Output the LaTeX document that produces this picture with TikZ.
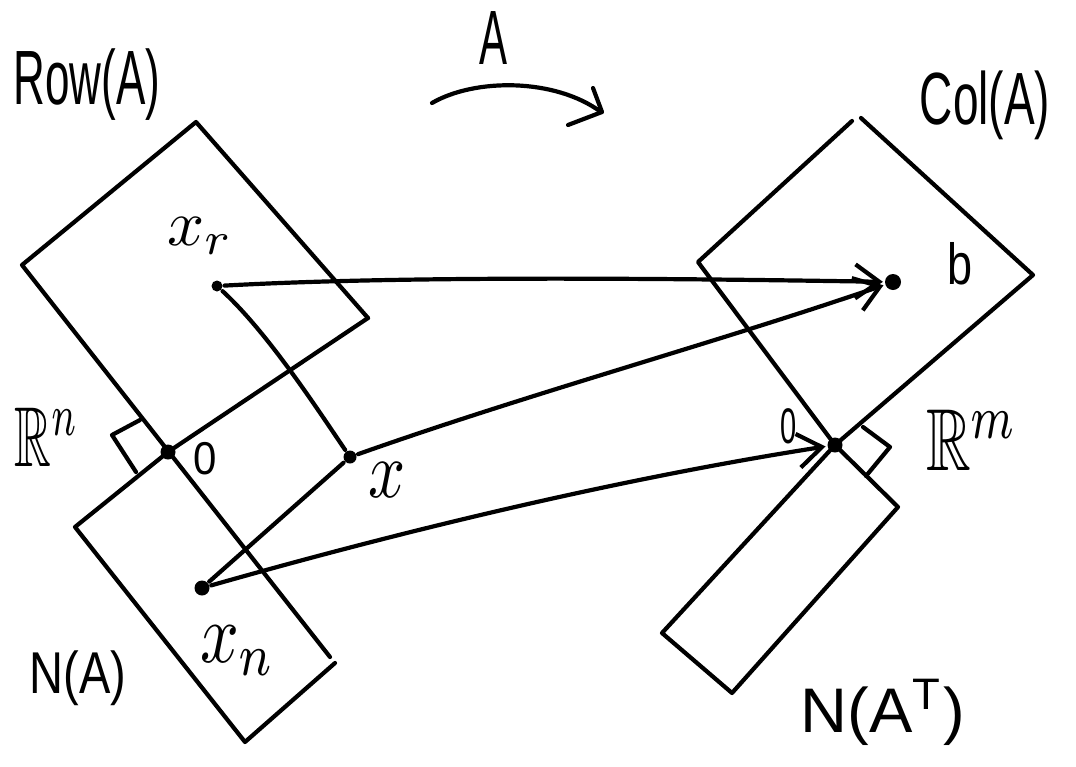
\documentclass[tikz,border=0pt]{standalone}
\usepackage{fontspec}
\setsansfont{Liberation Sans}
\usepackage{amssymb}
\usepackage{graphicx}
\usetikzlibrary{arrows.meta}
\begin{document}
\begin{tikzpicture}[x=1pt,y=-1pt, line width=4.2pt, line cap=round, line join=round,
  dot/.style={circle, fill=black, draw=none, inner sep=0pt, minimum size=#1},
  dot/.default=12pt,
  lbl/.style={inner sep=0pt, font=\sffamily},
  conn/.style={-{Straight Barb[length=24pt,width=34pt]}}]
\useasboundingbox (0,0) rectangle (1076,766);

% Row(A) and N(A)
\draw (368,318) -- (196,122) -- (22,265) -- (330,657);
\draw (368,318) -- (168,452) -- (75,527) -- (245,742) -- (335,663);
% Col(A) and N(A^T)
\draw (852,121) -- (698,262) -- (835,445);
\draw (861,118) -- (1033,275) -- (835,445);
\draw (835,445) -- (898,507) -- (732,693) -- (662,633) -- (835,445);

% right angle marks
\draw (140,420) -- (112,435) -- (136,472);
\draw (863,427) -- (890,447) -- (866,476);

% the map A
\draw (432,103) .. controls (475,78) and (555,78) .. (601,112);
\draw (593,88) -- (602,112) -- (568,125);

% points
\node[dot=11pt] (xr) at (217,286) {};
\node[dot=15pt] (o1) at (168,452) {};
\node[dot=13pt] (x)  at (350,457) {};
\node[dot=15pt] (xn) at (202,588) {};
\node[dot=16pt] (b)  at (893,282) {};
\node[dot=15pt] (o2) at (835,445) {};

% connectors
\draw (xr) .. controls (268,333) and (318,410) .. (x);
\draw (x) -- (xn);
\draw[conn] (xr) .. controls (400,276) and (650,278) .. (b);
\draw[conn] (x) .. controls (531,393) and (712,344) .. (b);
\draw[conn] (xn) .. controls (413,528) and (624,478) .. (o2);

% labels
\node[lbl] (rowlbl) at (87,85) {\scalebox{4.4}[7.7]{Row(A)}};
\node[lbl] (alabel) at (494,38) {\scalebox{4.2}[7.7]{A}};
\node[lbl] (collbl) at (985,105) {\scalebox{4.6}[7.4]{Col(A)}};
\node[lbl] (nalbl) at (78,678) {\scalebox{4.7}[5.9]{N(A)}};
\node[lbl] (natlbl) at (883,712) {\scalebox{6.5}[6.3]{N(A\textsuperscript{T})}};
\node[lbl] (rn) at (47,437) {\scalebox{5.1}[8.5]{$\mathbb{R}^n$}};
\node[lbl] (rm) at (972,440) {\scalebox{6.2}[8.8]{$\mathbb{R}^m$}};
\node[lbl] (z1) at (205,459) {\scalebox{4.2}[4.6]{0}};
\node[lbl] (z2) at (789,426) {\scalebox{2.9}[5]{0}};
\node[lbl] (blbl) at (960,264) {\scalebox{4.5}[5.8]{b}};
\node[lbl] (xlbl) at (387,480) {\scalebox{6.5}[8.1]{$x$}};
\node[lbl] (xrlbl) at (200,236) {\scalebox{6.5}[6.5]{$x_r$}};
\node[lbl] (xnlbl) at (238,651) {\scalebox{6.8}[8.5]{$x_n$}};
\end{tikzpicture}
\end{document}
